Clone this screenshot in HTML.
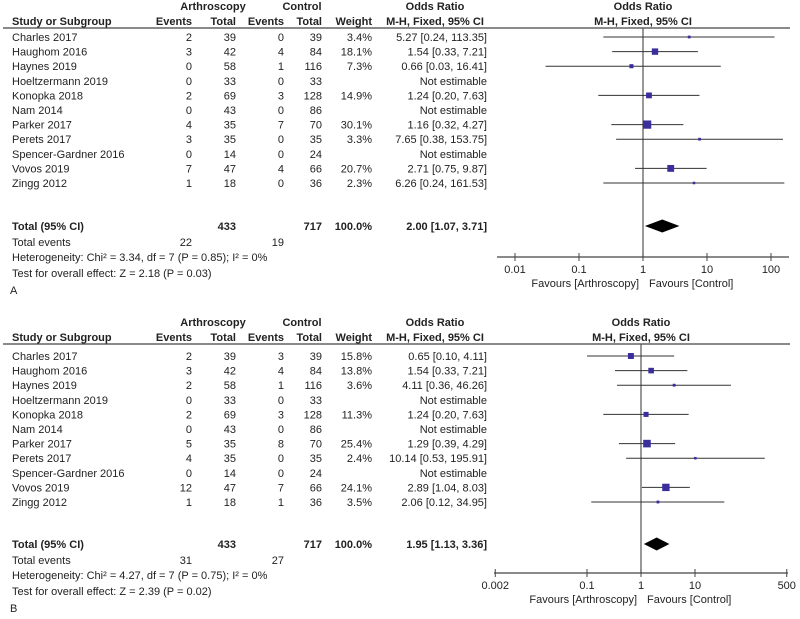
<!DOCTYPE html>
<html><head><meta charset="utf-8"><style>
body{margin:0;background:#fff;}
svg{display:block;font-family:"Liberation Sans",Arial,sans-serif;}
</style></head><body>
<svg id="s" width="800" height="619" xmlns="http://www.w3.org/2000/svg"></svg>
<script>
const studies=["Charles 2017","Haughom 2016","Haynes 2019","Hoeltzermann 2019","Konopka 2018","Nam 2014","Parker 2017","Perets 2017","Spencer-Gardner 2016","Vovos 2019","Zingg 2012"];
const artTotal=[39,42,58,33,69,43,35,35,14,47,18];
const ctlTotal=[39,84,116,33,128,86,70,35,24,66,36];
const aArtEv=[2,3,0,0,2,0,4,3,0,7,1];
const aCtlEv=[0,4,1,0,3,0,7,0,0,4,0];
const aWeight=[3.4,18.1,7.3,null,14.9,null,30.1,3.3,null,20.7,2.3];
const aOR=[5.27,1.54,0.66,null,1.24,null,1.16,7.65,null,2.71,6.26];
const aLo=[0.24,0.33,0.03,null,0.20,null,0.32,0.38,null,0.75,0.24];
const aHi=[113.35,7.21,16.41,null,7.63,null,4.27,153.75,null,9.87,161.53];
const aTotal=[2.00,1.07,3.71];
const aTicks=[0.01,0.1,1,10,100];
const aTickLabels=["0.01","0.1","1","10","100"];
const bArtEv=[2,3,2,0,2,0,5,4,0,12,1];
const bCtlEv=[3,4,1,0,3,0,8,0,0,7,1];
const bWeight=[15.8,13.8,3.6,null,11.3,null,25.4,2.4,null,24.1,3.5];
const bOR=[0.65,1.54,4.11,null,1.24,null,1.29,10.14,null,2.89,2.06];
const bLo=[0.10,0.33,0.36,null,0.20,null,0.39,0.53,null,1.04,0.12];
const bHi=[4.11,7.21,46.26,null,7.63,null,4.29,195.91,null,8.03,34.95];
const bTotal=[1.95,1.13,3.36];
const bTicks=[0.002,0.1,1,10,500];
const bTickLabels=["0.002","0.1","1","10","500"];

const S=document.getElementById('s');
const NS="http://www.w3.org/2000/svg";
function el(tag,attrs,parent){const e=document.createElementNS(NS,tag);for(const k in attrs)e.setAttribute(k,attrs[k]);(parent||S).appendChild(e);return e;}
function txt(x,y,s,anchor,bold,name,g){const t=el('text',{x:x,y:y,'font-size':11,'text-anchor':anchor||'start',fill:'#222','font-weight':bold?'bold':'normal'},g);t.textContent=s;


return t;}
function f(v){return v.toFixed(2);}

function panel(o){
  const g=el('g',{});
  
  
  const X=v=>o.cx+Math.log10(v)*o.dec;
  const y0=o.top;
  txt(213,y0,"Arthroscopy","middle",true,'arthroscopy-header',g);
  txt(302,y0,"Control","middle",true,'control-header',g);
  txt(435,y0,"Odds Ratio","middle",true,'odds-ratio-header',g);
  txt(o.cx,y0,"Odds Ratio","middle",true,'plot-odds-ratio-header',g);
  const y1=y0+15;
  txt(12,y1,"Study or Subgroup","start",true,'study-column-header',g);
  txt(192,y1,"Events","end",true,'arthroscopy-events-header',g);
  txt(236,y1,"Total","end",true,'arthroscopy-total-header',g);
  txt(284,y1,"Events","end",true,'control-events-header',g);
  txt(322,y1,"Total","end",true,'control-total-header',g);
  txt(372,y1,"Weight","end",true,'weight-header',g);
  txt(435,y1,"M-H, Fixed, 95% CI","middle",true,'mh-ci-header',g);
  txt(o.cx,y1,"M-H, Fixed, 95% CI","middle",true,'plot-mh-ci-header',g);
  const hl=el('line',{x1:3,x2:790,y1:y1+3,y2:y1+3,stroke:'#444','stroke-width':1.2},g);
  
  
  const vl=el('line',{x1:o.cx,x2:o.cx,y1:y1+3,y2:o.axisY,stroke:'#555','stroke-width':1.2},g);
  
  
  for(let i=0;i<studies.length;i++){
    const y=o.rowY+i*14.6;
    txt(12,y,studies[i],"start",false,'study-name',g);
    txt(192,y,String(o.ae[i]),"end",false,'arthroscopy-events',g);
    txt(236,y,String(artTotal[i]),"end",false,'arthroscopy-total',g);
    txt(284,y,String(o.ce[i]),"end",false,'control-events',g);
    txt(322,y,String(ctlTotal[i]),"end",false,'control-total',g);
    if(o.w[i]==null){txt(487,y,"Not estimable","end",false,'odds-ratio-value',g);continue;}
    txt(372,y,o.w[i].toFixed(1)+"%","end",false,'weight-value',g);
    txt(487,y,f(o.or[i])+" ["+f(o.lo[i])+", "+f(o.hi[i])+"]","end",false,'odds-ratio-value',g);
    const cy=y-4;
    const l=el('line',{x1:X(o.lo[i]),x2:X(o.hi[i]),y1:cy,y2:cy,stroke:'#333','stroke-width':1},g);
    
    
    const sz=Math.max(2.5,Math.sqrt(o.w[i])*1.5);
    const r=el('rect',{x:X(o.or[i])-sz/2,y:cy-sz/2,width:sz,height:sz,fill:'#3a2d9c'},g);
    
    
  }
  const ty=o.totY;
  txt(12,ty,"Total (95% CI)","start",true,'total-label',g);
  txt(236,ty,String(artTotal.reduce((a,b)=>a+b,0)),"end",true,'arthroscopy-grand-total',g);
  txt(322,ty,String(ctlTotal.reduce((a,b)=>a+b,0)),"end",true,'control-grand-total',g);
  txt(372,ty,"100.0%","end",true,'total-weight',g);
  txt(487,ty,f(o.tot[0])+" ["+f(o.tot[1])+", "+f(o.tot[2])+"]","end",true,'total-odds-ratio',g);
  const dy=ty-4;
  const d=el('polygon',{points:`${X(o.tot[1])},${dy} ${X(o.tot[0])},${dy-6.5} ${X(o.tot[2])},${dy} ${X(o.tot[0])},${dy+6.5}`,fill:'#000'},g);
  
  
  txt(12,ty+16,"Total events","start",false,'total-events-label',g);
  txt(192,ty+16,String(o.ae.reduce((a,b)=>a+b,0)),"end",false,'arthroscopy-total-events',g);
  txt(284,ty+16,String(o.ce.reduce((a,b)=>a+b,0)),"end",false,'control-total-events',g);
  txt(12,ty+31,o.het,"start",false,'heterogeneity-text',g);
  txt(12,ty+47,o.test,"start",false,'overall-effect-text',g);
  txt(10,ty+64,o.letter,"start",false,'panel-label',g);
  const ax=el('line',{x1:o.axL,x2:o.axR,y1:o.axisY,y2:o.axisY,stroke:'#444','stroke-width':1.2},g);
  
  
  o.ticks.forEach((t,k)=>{
    const tk=el('line',{x1:X(t),x2:X(t),y1:o.axisY-4,y2:o.axisY+4,stroke:'#444','stroke-width':1},g);
    
    
    txt(X(t),o.axisY+16,o.labels[k],"middle",false,'x-tick-label',g);
  });
  txt(o.cx-4,o.axisY+30,"Favours [Arthroscopy]","end",false,'favours-arthroscopy-label',g);
  txt(o.cx+6,o.axisY+30,"Favours [Control]","start",false,'favours-control-label',g);
}
panel({letter:"A",top:10,rowY:41,totY:230,axisY:257,cx:643,dec:64,axL:497,axR:789,ae:aArtEv,ce:aCtlEv,w:aWeight,or:aOR,lo:aLo,hi:aHi,tot:aTotal,ticks:aTicks,labels:aTickLabels,
 het:"Heterogeneity: Chi² = 3.34, df = 7 (P = 0.85); I² = 0%",test:"Test for overall effect: Z = 2.18 (P = 0.03)"});
panel({letter:"B",top:326,rowY:360,totY:548,axisY:573,cx:641,dec:54,axL:494,axR:788,ae:bArtEv,ce:bCtlEv,w:bWeight,or:bOR,lo:bLo,hi:bHi,tot:bTotal,ticks:bTicks,labels:bTickLabels,
 het:"Heterogeneity: Chi² = 4.27, df = 7 (P = 0.75); I² = 0%",test:"Test for overall effect: Z = 2.39 (P = 0.02)"});
</script>
</body></html>
